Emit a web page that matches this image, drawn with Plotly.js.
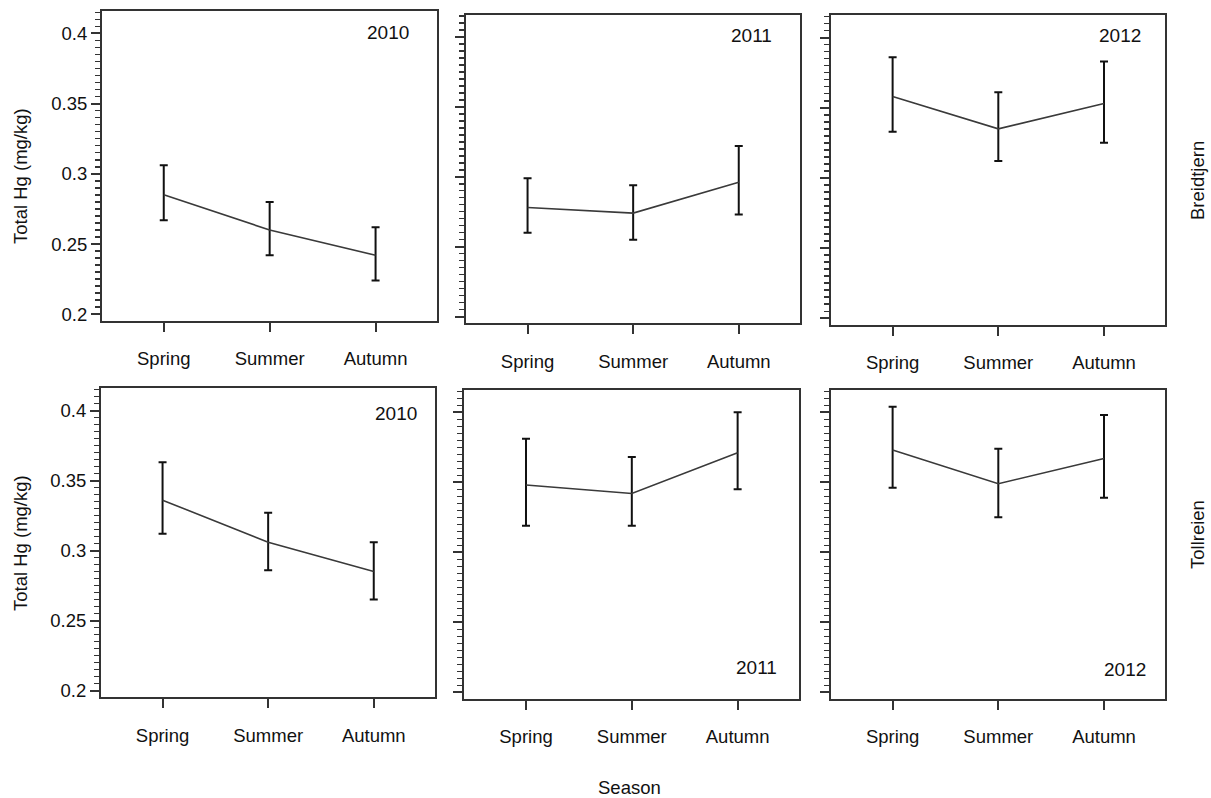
<!DOCTYPE html>
<html>
<head>
<meta charset="utf-8">
<script src="https://cdn.plot.ly/plotly-3.0.1.min.js"></script>
<style>html,body{margin:0;padding:0;background:#fff;}#chart{width:1211px;height:798px;}</style>
</head>
<body>
<div id="chart"></div>
<script>
// ---- data ----
const seasons = ['Spring', 'Summer', 'Autumn'];
const years = ['2010', '2011', '2012'];
const lakes = ['Breidtjern', 'Tollreien'];

const breidtjern2010Mean  = [0.285, 0.260, 0.242];
const breidtjern2010Upper = [0.306, 0.280, 0.262];
const breidtjern2010Lower = [0.267, 0.242, 0.224];

const breidtjern2011Mean  = [0.278, 0.274, 0.296];
const breidtjern2011Upper = [0.299, 0.294, 0.322];
const breidtjern2011Lower = [0.260, 0.255, 0.273];

const breidtjern2012Mean  = [0.358, 0.335, 0.353];
const breidtjern2012Upper = [0.386, 0.361, 0.383];
const breidtjern2012Lower = [0.333, 0.312, 0.325];

const tollreien2010Mean  = [0.336, 0.306, 0.285];
const tollreien2010Upper = [0.363, 0.327, 0.306];
const tollreien2010Lower = [0.312, 0.286, 0.265];

const tollreien2011Mean  = [0.348, 0.342, 0.371];
const tollreien2011Upper = [0.381, 0.368, 0.400];
const tollreien2011Lower = [0.319, 0.319, 0.345];

const tollreien2012Mean  = [0.373, 0.349, 0.367];
const tollreien2012Upper = [0.404, 0.374, 0.398];
const tollreien2012Lower = [0.346, 0.325, 0.339];

const yTickVals = [0.2, 0.25, 0.3, 0.35, 0.4];
const yTickText = ['0.2', '0.25', '0.3', '0.35', '0.4'];

const yAxisTitle = 'Total Hg (mg/kg)';
const xAxisTitle = 'Season';

// ---- layout geometry (pixels) ----
const W = 1211, H = 798;
const panels = [
  {mean: breidtjern2010Mean, up: breidtjern2010Upper, lo: breidtjern2010Lower, box: [102, 437, 11, 321],      lab: [388, 32]},
  {mean: breidtjern2011Mean, up: breidtjern2011Upper, lo: breidtjern2011Lower, box: [466, 800, 14.7, 323.3],  lab: [751.7, 35.7]},
  {mean: breidtjern2012Mean, up: breidtjern2012Upper, lo: breidtjern2012Lower, box: [831, 1165.3, 15.3, 325], lab: [1120, 35.7]},
  {mean: tollreien2010Mean,  up: tollreien2010Upper,  lo: tollreien2010Lower,  box: [101, 435, 388.3, 697.3], lab: [396, 413]},
  {mean: tollreien2011Mean,  up: tollreien2011Upper,  lo: tollreien2011Lower,  box: [464.3, 799, 390, 699],   lab: [756, 667.3]},
  {mean: tollreien2012Mean,  up: tollreien2012Upper,  lo: tollreien2012Lower,  box: [831, 1165.3, 390, 699],  lab: [1125, 669.3]}
];

const FONT = 'Liberation Sans, Arial, sans-serif';
const FS = 18.5;
const data = [];
const layout = {
  width: W, height: H,
  margin: {l: 0, r: 0, t: 0, b: 0},
  paper_bgcolor: '#ffffff', plot_bgcolor: '#ffffff',
  showlegend: false,
  font: {family: FONT, size: FS, color: '#111'},
  annotations: []
};

panels.forEach((p, i) => {
  const n = i + 1;
  const xa = n === 1 ? 'x' : 'x' + n;
  const ya = n === 1 ? 'y' : 'y' + n;
  data.push({
    type: 'scatter', mode: 'lines',
    x: seasons, y: p.mean,
    xaxis: xa, yaxis: ya,
    line: {color: '#3a3a3a', width: 1.6},
    error_y: {
      type: 'data', symmetric: false,
      array: p.up.map((u, k) => u - p.mean[k]),
      arrayminus: p.mean.map((m, k) => m - p.lo[k]),
      color: '#111', thickness: 2, width: 4
    },
    hoverinfo: 'skip'
  });
  const [x0, x1, y0, y1] = p.box;
  const col = i % 3;
  layout['xaxis' + (n === 1 ? '' : n)] = {
    domain: [x0 / W, x1 / W],
    anchor: ya,
    type: 'category',
    range: [-0.583, 2.58],
    showgrid: false, zeroline: false,
    showline: true, mirror: true, linecolor: '#333', linewidth: 2,
    ticks: 'outside', ticklen: 9, tickwidth: 2, tickcolor: '#333',
    ticklabelstandoff: 11,
    tickfont: {family: FONT, size: FS, color: '#111'},
    fixedrange: true
  };
  layout['yaxis' + (n === 1 ? '' : n)] = {
    domain: [1 - y1 / H, 1 - y0 / H],
    anchor: xa,
    range: [0.1952, 0.4159],
    tickmode: 'array', tickvals: yTickVals, ticktext: yTickText,
    showticklabels: col === 0,
    showgrid: false, zeroline: false,
    showline: true, mirror: true, linecolor: '#333', linewidth: 2,
    ticks: 'outside', ticklen: 9, tickwidth: 2, tickcolor: '#333',
    minor: {dtick: 0.005, tick0: 0, ticks: 'outside', ticklen: 5, tickwidth: 1.5, tickcolor: '#333', showgrid: false},
    tickfont: {family: FONT, size: FS, color: '#111'},
    fixedrange: true
  };
  layout.annotations.push({
    xref: 'paper', yref: 'paper',
    x: p.lab[0] / W, y: 1 - p.lab[1] / H,
    xanchor: 'center', yanchor: 'middle',
    text: years[col], showarrow: false,
    font: {family: FONT, size: 19, color: '#111'}
  });
});

// axis / strip titles
layout.annotations.push(
  {xref: 'paper', yref: 'paper', x: 20 / W, y: 1 - 176 / H, text: yAxisTitle, textangle: -90,
   showarrow: false, xanchor: 'center', yanchor: 'middle', font: {family: FONT, size: FS, color: '#111'}},
  {xref: 'paper', yref: 'paper', x: 20 / W, y: 1 - 543 / H, text: yAxisTitle, textangle: -90,
   showarrow: false, xanchor: 'center', yanchor: 'middle', font: {family: FONT, size: FS, color: '#111'}},
  {xref: 'paper', yref: 'paper', x: 1198 / W, y: 1 - 181 / H, text: lakes[0], textangle: -90,
   showarrow: false, xanchor: 'center', yanchor: 'middle', font: {family: FONT, size: FS, color: '#111'}},
  {xref: 'paper', yref: 'paper', x: 1197 / W, y: 1 - 535 / H, text: lakes[1], textangle: -90,
   showarrow: false, xanchor: 'center', yanchor: 'middle', font: {family: FONT, size: FS, color: '#111'}},
  {xref: 'paper', yref: 'paper', x: 629.5 / W, y: 1 - 787 / H, text: xAxisTitle,
   showarrow: false, xanchor: 'center', yanchor: 'middle', font: {family: FONT, size: FS, color: '#111'}}
);

Plotly.newPlot('chart', data, layout, {displayModeBar: false, staticPlot: true});
</script>
</body>
</html>
